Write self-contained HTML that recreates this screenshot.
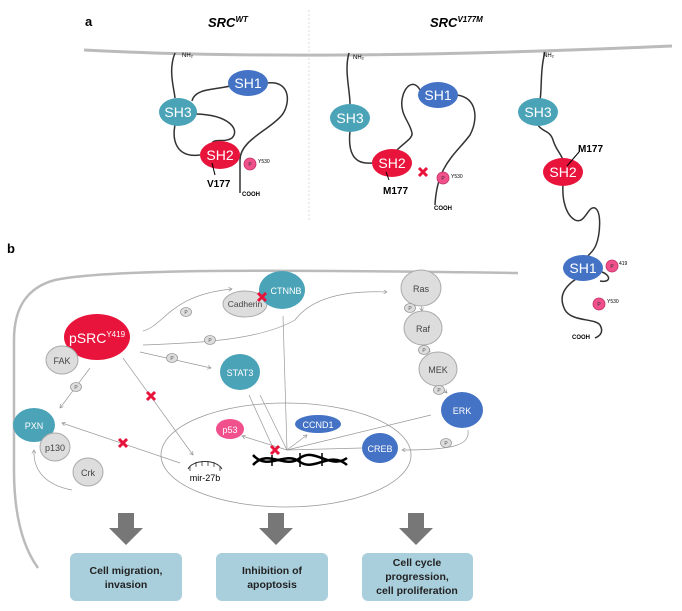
<!DOCTYPE html><html><head><style>body{margin:0;background:#fff}svg{display:block}text{font-family:"Liberation Sans",sans-serif}</style></head><body>
<svg width="682" height="611" viewBox="0 0 682 611">
<defs><marker id="ar" markerWidth="6" markerHeight="6" refX="5" refY="3" orient="auto"><path d="M0,0L5,3L0,6" fill="none" stroke="#999" stroke-width="1"/></marker>
<g id="x"><path d="M-4,-4L4,4M4,-4L-4,4" stroke="#e8143c" stroke-width="3"/></g>
<g id="p"><ellipse rx="5.5" ry="4.5" fill="#ddd" stroke="#999" stroke-width="0.8"/><text y="2" font-size="5" text-anchor="middle" fill="#555">P</text></g>
<g id="pp"><circle r="6" fill="#f0508c" stroke="#c03060" stroke-width="0.8"/><text y="2" font-size="5" text-anchor="middle" fill="#333">P</text></g>
</defs>
<text x="85" y="26" font-size="13" font-weight="bold">a</text>
<text x="208" y="27" font-size="13" font-weight="bold" font-style="italic">SRC<tspan font-size="8" dy="-5">WT</tspan></text>
<text x="430" y="27" font-size="13" font-weight="bold" font-style="italic">SRC<tspan font-size="8" dy="-5">V177M</tspan></text>
<line x1="309" y1="10" x2="309" y2="222" stroke="#ccc" stroke-dasharray="2,2" stroke-width="0.7"/>
<path d="M84,50 Q310,62 672,46" stroke="#bbb" stroke-width="3" fill="none"/>
<g fill="none" stroke="#333" stroke-width="1.5">
<path d="M175,53 C168,70 174,88 175,98 M175,125 C172,140 176,158 200,155 M196,114 C230,115 240,130 232,138 C225,143 215,138 212,143 M192,101 C195,88 215,90 230,86 M267,83 C292,80 290,105 282,115 C270,130 240,140 240,160 L240,193"/>
<path d="M349,53 C344,70 350,90 350,104 M350,131 C348,150 352,165 372,163 M397,150 C405,142 413,138 412,133 C410,122 400,115 402,100 C404,85 415,78 421,92 M457,95 C478,98 478,120 470,135 C455,155 437,165 435,205"/>
<path d="M545,52 C540,70 542,90 540,100 M538,125 C542,132 550,130 553,140 C556,150 560,152 563,160 M563,185 C562,200 566,215 575,220 C585,225 588,205 595,208 C602,212 600,235 596,245 C593,252 590,253 588,256 M576,279 C560,290 560,300 565,310 C572,322 595,318 600,325 C604,332 600,336 595,338 M602,272 C612,276 610,283 600,281"/>
</g>
<text x="182" y="57" font-size="6">NH₂</text><text x="353" y="59" font-size="6">NH₂</text><text x="543" y="57" font-size="6">NH₂</text>
<g font-size="14" fill="#fff" text-anchor="middle">
<ellipse cx="248" cy="83" rx="20" ry="13" fill="#4472c4"/><text x="248" y="88">SH1</text>
<ellipse cx="178" cy="112" rx="19" ry="14" fill="#4ba3b8"/><text x="178" y="117">SH3</text>
<ellipse cx="220" cy="155" rx="20" ry="14" fill="#e8143c"/><text x="220" y="160">SH2</text>
<ellipse cx="438" cy="95" rx="20" ry="13" fill="#4472c4"/><text x="438" y="100">SH1</text>
<ellipse cx="350" cy="118" rx="20" ry="14" fill="#4ba3b8"/><text x="350" y="123">SH3</text>
<ellipse cx="392" cy="163" rx="20" ry="14" fill="#e8143c"/><text x="392" y="168">SH2</text>
<ellipse cx="538" cy="112" rx="20" ry="14" fill="#4ba3b8"/><text x="538" y="117">SH3</text>
<ellipse cx="563" cy="172" rx="20" ry="14" fill="#e8143c"/><text x="563" y="177">SH2</text>
<ellipse cx="583" cy="268" rx="20" ry="13" fill="#4472c4"/><text x="583" y="273">SH1</text>
</g>
<g stroke="#000" stroke-width="1"><line x1="212" y1="163" x2="215" y2="175"/><line x1="386" y1="172" x2="389" y2="180"/><line x1="567" y1="166" x2="579" y2="152"/></g>
<g font-size="10" font-weight="bold"><text x="207" y="187">V177</text><text x="383" y="194">M177</text><text x="578" y="152">M177</text></g>
<use href="#pp" x="250" y="164"/><text x="258" y="163" font-size="5">Y530</text>
<use href="#pp" x="443" y="178"/><text x="451" y="178" font-size="5">Y530</text>
<use href="#x" x="423" y="172"/>
<use href="#pp" x="612" y="266"/><text x="619" y="265" font-size="5">419</text>
<use href="#pp" x="599" y="304"/><text x="607" y="303" font-size="5">Y530</text>
<g font-size="6" font-weight="bold"><text x="242" y="196">COOH</text><text x="434" y="210">COOH</text><text x="572" y="339">COOH</text></g>
<text x="7" y="253" font-size="13" font-weight="bold">b</text>
<path d="M518,273 C300,270 110,268 55,280 C25,288 14,310 14,340 L14,470 C14,520 25,550 38,568" stroke="#bbb" stroke-width="2.5" fill="none"/>
<ellipse cx="286" cy="455" rx="125" ry="52" fill="none" stroke="#999" stroke-width="0.8"/>
<g stroke="#999" stroke-width="0.7" fill="none" marker-end="url(#ar)">
<path d="M143,331 C165,325 170,295 232,289"/><path d="M143,345 C200,343 260,340 295,320 C310,300 340,290 387,292"/>
<path d="M140,352 L211,368"/><path d="M90,368 L60,408"/><path d="M123,358 L193,455"/>
<path d="M180,463 L62,423"/><path d="M287,450 L242,436"/><path d="M287,450 L307,435"/>
<path d="M421,305 L422,311"/><path d="M424,345 L430,352"/><path d="M440,386 L447,393"/>
<path d="M468,430 C470,445 455,450 402,450"/><path d="M72,490 C45,485 33,470 34,450"/>
</g>
<g stroke="#999" stroke-width="0.7"><line x1="249" y1="395" x2="274" y2="450"/><line x1="260" y1="395" x2="287" y2="450"/><line x1="283" y1="316" x2="287" y2="450"/><line x1="431" y1="415" x2="287" y2="450"/><line x1="362" y1="448" x2="287" y2="450"/></g>
<g font-size="11" text-anchor="middle" fill="#444">
<ellipse cx="245" cy="304" rx="22" ry="13" fill="#ddd" stroke="#aaa"/><text x="245" y="307" font-size="8.5">Cadherin</text>
<ellipse cx="282" cy="290" rx="23" ry="19" fill="#4ba3b8"/><text x="286" y="294" fill="#fff" font-size="9">CTNNB</text>
<ellipse cx="421" cy="288" rx="20" ry="18" fill="#ddd" stroke="#aaa"/><text x="421" y="292" font-size="9">Ras</text>
<ellipse cx="423" cy="328" rx="19" ry="17" fill="#ddd" stroke="#aaa"/><text x="423" y="332" font-size="9">Raf</text>
<ellipse cx="438" cy="369" rx="19" ry="17" fill="#ddd" stroke="#aaa"/><text x="438" y="373" font-size="9">MEK</text>
<ellipse cx="462" cy="410" rx="21" ry="18" fill="#4472c4"/><text x="462" y="414" fill="#fff" font-size="9">ERK</text>
<ellipse cx="380" cy="448" rx="18" ry="15" fill="#4472c4"/><text x="380" y="452" fill="#fff" font-size="9">CREB</text>
<ellipse cx="240" cy="372" rx="20" ry="18" fill="#4ba3b8"/><text x="240" y="376" fill="#fff" font-size="9">STAT3</text>
<ellipse cx="230" cy="429" rx="14" ry="10" fill="#f0508c"/><text x="230" y="433" fill="#fff" font-size="9">p53</text>
<ellipse cx="318" cy="424" rx="23" ry="9" fill="#4472c4"/><text x="318" y="428" fill="#fff" font-size="9">CCND1</text>
<ellipse cx="97" cy="337" rx="33" ry="23" fill="#e8143c"/><text x="97" y="343" fill="#fff" font-size="14">pSRC<tspan font-size="8" dy="-6">Y419</tspan></text>
<ellipse cx="62" cy="360" rx="16" ry="14" fill="#ddd" stroke="#aaa"/><text x="62" y="364" font-size="9">FAK</text>
<ellipse cx="34" cy="425" rx="21" ry="17" fill="#4ba3b8"/><text x="34" y="429" fill="#fff" font-size="9">PXN</text>
<ellipse cx="55" cy="447" rx="15" ry="14" fill="#ddd" stroke="#aaa"/><text x="55" y="451" font-size="9">p130</text>
<ellipse cx="88" cy="472" rx="15" ry="14" fill="#ddd" stroke="#aaa"/><text x="88" y="476" font-size="9">Crk</text>
</g>
<use href="#x" x="262" y="297"/><use href="#x" x="151" y="396"/><use href="#x" x="123" y="443"/><use href="#x" x="275" y="450"/>
<use href="#p" x="186" y="312"/><use href="#p" x="210" y="340"/><use href="#p" x="172" y="358"/><use href="#p" x="76" y="387"/>
<use href="#p" x="410" y="308"/><use href="#p" x="424" y="350"/><use href="#p" x="439" y="390"/><use href="#p" x="446" y="443"/>
<g stroke="#000" stroke-width="2.5" fill="none"><path d="M253,465 C268,448 285,470 300,458 C315,447 330,470 347,458"/><path d="M253,455 C268,472 285,450 300,462 C315,472 330,450 347,465"/></g>
<g stroke="#000" stroke-width="1.5"><line x1="272" y1="455" x2="272" y2="466"/><line x1="300" y1="453" x2="300" y2="467"/><line x1="322" y1="453" x2="322" y2="466"/></g>
<path d="M188,469 C192,460 215,458 222,469" stroke="#333" fill="none"/><g stroke="#333" stroke-width="0.8"><line x1="190" y1="466" x2="190" y2="471"/><line x1="196" y1="462" x2="196" y2="467"/><line x1="202" y1="461" x2="202" y2="466"/><line x1="208" y1="461" x2="208" y2="466"/><line x1="214" y1="462" x2="214" y2="467"/><line x1="220" y1="466" x2="220" y2="471"/></g>
<text x="205" y="481" font-size="9" text-anchor="middle">mir-27b</text>
<g fill="#777"><path d="M118,513h16v15h9l-17,17l-17,-17h9z"/><path d="M268,513h16v15h9l-17,17l-17,-17h9z"/><path d="M408,513h16v15h9l-17,17l-17,-17h9z"/></g>
<g fill="#a9cfdc"><rect x="70" y="553" width="112" height="48" rx="6"/><rect x="216" y="553" width="112" height="48" rx="6"/><rect x="362" y="553" width="111" height="48" rx="6"/></g>
<g font-size="10.5" font-weight="bold" text-anchor="middle" fill="#222">
<text x="126" y="574">Cell migration,</text><text x="126" y="588">invasion</text>
<text x="272" y="574">Inhibition of</text><text x="272" y="588">apoptosis</text>
<text x="417" y="566">Cell cycle</text><text x="417" y="580">progression,</text><text x="417" y="594">cell proliferation</text>
</g>
</svg></body></html>
